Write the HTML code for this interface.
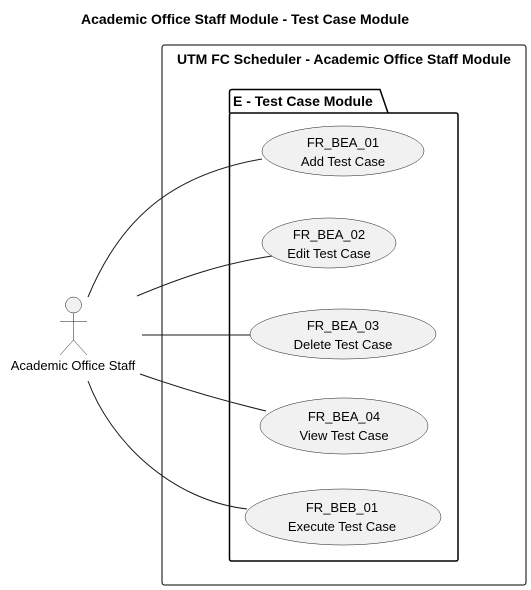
<!DOCTYPE html>
<html><head><meta charset="utf-8"><style>body{margin:0;background:#fff}svg{display:block}</style></head><body>
<svg width="531" height="590" xmlns="http://www.w3.org/2000/svg" font-family="Liberation Sans, sans-serif">
<text x="245" y="24" font-size="14" font-weight="bold" text-anchor="middle">Academic Office Staff Module - Test Case Module</text>
<rect x="162" y="45" width="364" height="540" rx="2.5" fill="none" stroke="#000" stroke-width="1"/>
<text x="344" y="64" font-size="14" font-weight="bold" text-anchor="middle">UTM FC Scheduler - Academic Office Staff Module</text>
<path d="M229.5,113 L229.5,92 Q229.5,89.5 232,89.5 L380,89.5 L388,113" fill="none" stroke="#000" stroke-width="1.5"/>
<rect x="229.5" y="113" width="228.5" height="448" rx="2" fill="none" stroke="#000" stroke-width="1.5"/>
<text x="233" y="106" font-size="14" font-weight="bold">E - Test Case Module</text>
<g fill="none" stroke="#181818" stroke-width="1">
<path d="M88,297 C120,220 170,175 262,159"/>
<path d="M137,296 C180,278 220,264 272,256"/>
<path d="M142,335 L251,335"/>
<path d="M140,374 C180,388 220,400 266,411"/>
<path d="M88,381 C110,440 170,500 247,509"/>
</g>
<g fill="#f1f1f1" stroke="#181818" stroke-width="0.5">
<ellipse cx="343" cy="151" rx="81" ry="25"/>
<ellipse cx="329" cy="243" rx="67" ry="25"/>
<ellipse cx="343" cy="334" rx="93" ry="25"/>
<ellipse cx="344" cy="426" rx="84" ry="28"/>
<ellipse cx="343" cy="517" rx="98" ry="28"/>
</g>
<g font-size="13" text-anchor="middle" fill="#000">
<text x="343" y="147">FR_BEA_01</text><text x="343" y="166">Add Test Case</text>
<text x="329" y="239">FR_BEA_02</text><text x="329" y="258">Edit Test Case</text>
<text x="343" y="330">FR_BEA_03</text><text x="343" y="349">Delete Test Case</text>
<text x="344" y="421">FR_BEA_04</text><text x="344" y="440">View Test Case</text>
<text x="342" y="512">FR_BEB_01</text><text x="342" y="531">Execute Test Case</text>
</g>
<g fill="#f1f1f1" stroke="#181818" stroke-width="0.5">
<circle cx="73.5" cy="305" r="8"/>
<path d="M73.5,313 L73.5,340 M60,321.5 L87,321.5 M60,355 L73.5,340 L87,355" fill="none"/>
</g>
<text x="73" y="370" font-size="13" text-anchor="middle">Academic Office Staff</text>
</svg>
</body></html>
